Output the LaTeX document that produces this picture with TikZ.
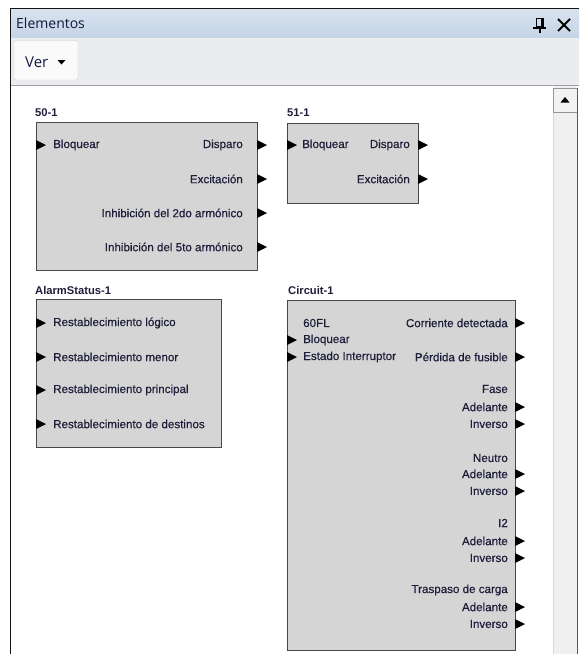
\documentclass[tikz,border=0pt]{standalone}
\usepackage{fontspec}
\setmainfont{Liberation Sans}
\newfontfamily\uifont{Open Sans}
\newfontfamily\lblfont[FakeBold=0.5]{Liberation Sans}
\definecolor{txt}{RGB}{30,30,58}
\definecolor{boxfill}{RGB}{213,213,213}
\definecolor{boxline}{RGB}{72,72,72}
\definecolor{bartop}{RGB}{216,227,239}
\definecolor{barbot}{RGB}{196,212,229}
\definecolor{toolbg}{RGB}{234,236,240}
\definecolor{scrollbg}{RGB}{240,240,240}
\definecolor{frame}{RGB}{20,20,20}
\tikzset{
  blk/.style={draw=boxline, line width=1.4pt, fill=boxfill, inner sep=0pt, anchor=north west},
  lbl/.style={inner sep=0pt, text=txt, font=\lblfont\fontsize{11.6}{13}\selectfont},
  ttl/.style={inner sep=0pt, text=txt, anchor=west, font=\bfseries\fontsize{11.2}{13}\selectfont},
  pinc/.style={fill=black},
}
\newcommand\pinout[2]{\fill[pinc] (#1,#2) ++(0,-5) -- ++(10,5) -- ++(-10,5) -- cycle;}
\begin{document}
\begin{tikzpicture}[x=1pt,y=-1pt]
\useasboundingbox (0,0) rectangle (579,654);
\fill[white] (0,0) rectangle (579,654);
% window chrome
\shade[top color=bartop, bottom color=barbot] (10,8) rectangle (579,38);
\fill[toolbg] (10,38) rectangle (579,85);
\draw[color={rgb,255:red,160;green,160;blue,160}, line width=1pt] (10,85.5) -- (579,85.5);
\draw[frame, line width=1.6pt] (10.5,654) -- (10.5,8.5) -- (579,8.5);
\node[inner sep=0pt, anchor=west, font=\uifont\fontsize{14}{16}\selectfont, text={rgb,255:red,20;green,20;blue,60}] (wtitle) at (16,23) {Elementos};
% pin icon
\draw[black, line width=1.2pt] (536.5,18.5) rectangle (542.5,27);
\fill[black] (541,18) rectangle (543.5,27.5);
\fill[black] (533,27) rectangle (546,29);
\fill[black] (538.8,29) rectangle (540.6,33);
% close icon
\draw[black, line width=2pt] (558,19) -- (570,31) (558,31) -- (570,19);
% Ver button
\draw[fill={rgb,255:red,250;green,250;blue,251}, draw={rgb,255:red,205;green,208;blue,214}, rounded corners=2pt] (14,40.5) rectangle (78,80);
\node[inner sep=0pt, anchor=west, font=\uifont\fontsize{15}{17}\selectfont, text={rgb,255:red,25;green,25;blue,70}] (ver) at (25,62) {Ver};
\fill[black] (57.5,60) -- (65.5,60) -- (61.5,64.5) -- cycle;
% scrollbar
\fill[scrollbg] (553,86) rectangle (577,654);
\draw[color={rgb,255:red,215;green,215;blue,215}] (553.5,112) -- (553.5,654);
\draw[fill={rgb,255:red,242;green,242;blue,242}, draw={rgb,255:red,150;green,150;blue,150}] (553.5,88.5) rectangle (577,112);
\fill[black] (560.5,102.5) -- (569.5,102.5) -- (565,97) -- cycle;
\draw[color={rgb,255:red,90;green,90;blue,90}, line width=1.2pt] (577.5,88) -- (577.5,654);

% ---------- 50-1 ----------
\node[ttl] (t50) at (35,113) {50-1};
\node[blk, minimum width=221pt, minimum height=148pt] (b50) at (36,122) {};
\pinout{36}{145}
\node[lbl, anchor=west] (b50i1) at (53,145) {Bloquear};
\node[lbl, anchor=east] (b50o1) at (243,145) {Disparo};
\node[lbl, anchor=east] (b50o2) at (243,179) {Excitación};
\node[lbl, anchor=east] (b50o3) at (243,213) {Inhibición del 2do armónico};
\node[lbl, anchor=east] (b50o4) at (243,247) {Inhibición del 5to armónico};
\pinout{257}{145}\pinout{257}{179}\pinout{257}{213}\pinout{257}{247}

% ---------- 51-1 ----------
\node[ttl] (t51) at (287,113) {51-1};
\node[blk, minimum width=131pt, minimum height=80pt] (b51) at (287,123) {};
\pinout{287}{145}
\node[lbl, anchor=west] (b51i1) at (302,145) {Bloquear};
\node[lbl, anchor=east] (b51o1) at (410,145) {Disparo};
\node[lbl, anchor=east] (b51o2) at (410,179) {Excitación};
\pinout{418}{145}\pinout{418}{179}

% ---------- AlarmStatus-1 ----------
\node[ttl] (tal) at (35,290) {AlarmStatus-1};
\node[blk, minimum width=185pt, minimum height=148pt] (bal) at (36,299) {};
\pinout{36}{323}\pinout{36}{357}\pinout{36}{390}\pinout{36}{424}
\node[lbl, anchor=west] (bali1) at (53,323) {Restablecimiento lógico};
\node[lbl, anchor=west] (bali2) at (53,357) {Restablecimiento menor};
\node[lbl, anchor=west] (bali3) at (53,390) {Restablecimiento principal};
\node[lbl, anchor=west] (bali4) at (53,424) {Restablecimiento de destinos};

% ---------- Circuit-1 ----------
\node[ttl] (tci) at (288,290) {Circuit-1};
\node[blk, minimum width=228pt, minimum height=350pt] (bci) at (287,300) {};
\node[lbl, anchor=west] (bcil0) at (303,323) {60FL};
\node[lbl, anchor=west] (bcii1) at (303,340) {Bloquear};
\node[lbl, anchor=west] (bcii2) at (303,357) {Estado Interruptor};
\pinout{287}{340}\pinout{287}{357}
\node[lbl, anchor=east] (bcio1) at (508,323) {Corriente detectada};
\node[lbl, anchor=east] (bcio2) at (508,357) {Pérdida de fusible};
\node[lbl, anchor=east] (bcih1) at (508,389) {Fase};
\node[lbl, anchor=east] (bcio3) at (508,407) {Adelante};
\node[lbl, anchor=east] (bcio4) at (508,424) {Inverso};
\node[lbl, anchor=east] (bcih2) at (508,458) {Neutro};
\node[lbl, anchor=east] (bcio5) at (508,474) {Adelante};
\node[lbl, anchor=east] (bcio6) at (508,491) {Inverso};
\node[lbl, anchor=east] (bcih3) at (508,523) {I2};
\node[lbl, anchor=east] (bcio7) at (508,541) {Adelante};
\node[lbl, anchor=east] (bcio8) at (508,558) {Inverso};
\node[lbl, anchor=east] (bcih4) at (508,590) {Traspaso de carga};
\node[lbl, anchor=east] (bcio9) at (508,607) {Adelante};
\node[lbl, anchor=east] (bcio10) at (508,624) {Inverso};
\pinout{515}{323}\pinout{515}{357}\pinout{515}{407}\pinout{515}{424}
\pinout{515}{474}\pinout{515}{491}\pinout{515}{541}\pinout{515}{558}
\pinout{515}{607}\pinout{515}{624}
\end{tikzpicture}
\end{document}
